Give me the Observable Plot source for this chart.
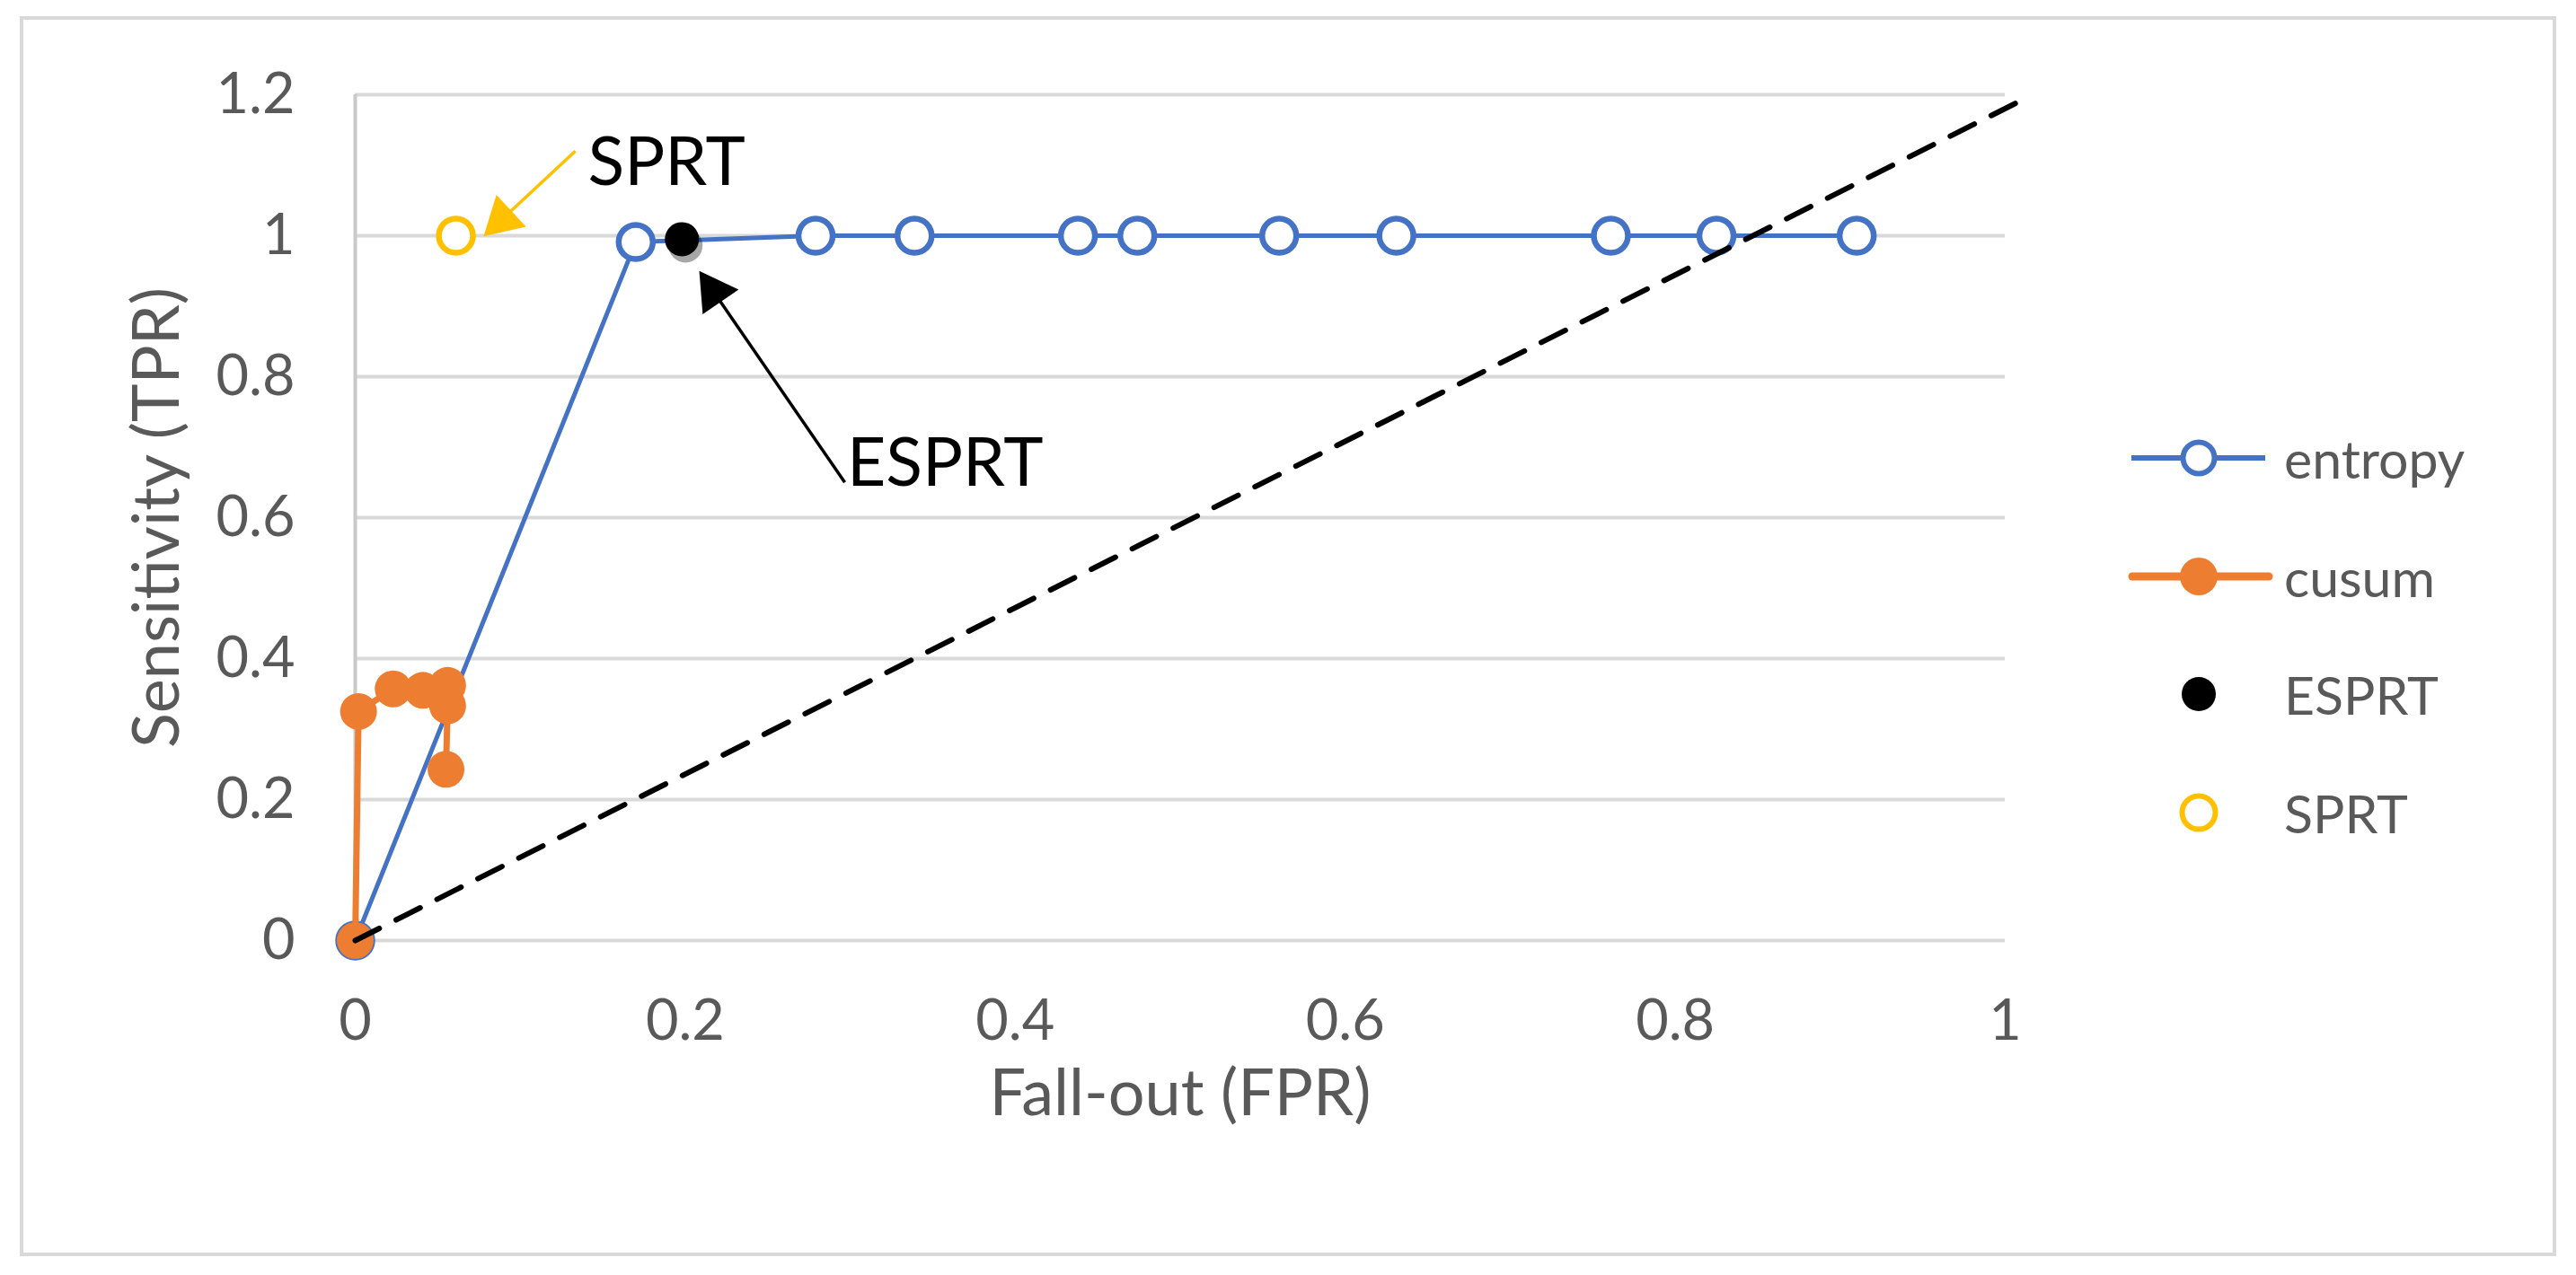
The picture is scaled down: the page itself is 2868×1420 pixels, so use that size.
<!DOCTYPE html>
<html>
<head>
<meta charset="utf-8">
<script src="https://cdn.jsdelivr.net/npm/d3@7"></script>
<script src="https://cdn.jsdelivr.net/npm/@observablehq/plot@0.6"></script>
<style>
  html, body { margin: 0; padding: 0; background: #fff; }
  #wrap { position: relative; width: 2868px; height: 1420px; overflow: hidden; background: #fff; font-family: Lato, "Open Sans", sans-serif; }
  #border { position: absolute; left: 22px; top: 18px; width: 2824px; height: 1381px; border: 4px solid #d9d9d9; box-sizing: border-box; }
  #chart { position: absolute; left: 0; top: 0; }
  #legend { position: absolute; left: 0; top: 0; }
  .lg-row { position: absolute; left: 2360px; height: 80px; display: flex; align-items: center; }
  .lg-row svg { width: 180px; height: 80px; flex: none; }
  .lg-row span { font-family: Lato, sans-serif; font-size: 59px; line-height: 1; color: #595959; margin-left: 3px; white-space: nowrap; }
  g[aria-label="esprt-shadow"] { filter: blur(6px); }
</style>
</head>
<body>
<div id="wrap">
  <div id="border"></div>
  <div id="chart"></div>
  <div id="legend"></div>
</div>
<script>
// ---------- data ----------
const xTicks = [0, 0.2, 0.4, 0.6, 0.8, 1];
const yTicks = [0, 0.2, 0.4, 0.6, 0.8, 1, 1.2];

const entropyFPR = [0, 0.170, 0.279, 0.339, 0.438, 0.474, 0.560, 0.631, 0.761, 0.825, 0.910];
const entropyTPR = [0, 0.991, 1, 1, 1, 1, 1, 1, 1, 1, 1];

const cusumFPR = [0, 0.002, 0.023, 0.041, 0.056, 0.056, 0.055];
const cusumTPR = [0, 0.325, 0.357, 0.355, 0.362, 0.333, 0.243];

const esprtFPR = [0.198];
const esprtTPR = [0.995];

const sprtFPR = [0.061];
const sprtTPR = [1.0];

const diagFPR = [0, 1.014];
const diagTPR = [0, 1.197];

const annotationLabels = ["SPRT", "ESPRT"];
const annotationX = [0.141, 0.298];
const annotationY = [1.072, 0.645];

const arrowTailX = [0.1334, 0.2967];
const arrowTailY = [1.120, 0.650];
const arrowTipX = [0.0778, 0.2085];
const arrowTipY = [0.999, 0.950];
const arrowColors = ["#FFC000", "#000000"];

const legendNames = ["entropy", "cusum", "ESPRT", "SPRT"];
const legendRowY = [510, 642, 773, 905];

// ---------- layout ----------
const W = 2868, H = 1420, mL = 395, mR = 636, mT = 105, mB = 373;
const kx = (W - mL - mR) / 1;      // px per unit x
const ky = (H - mT - mB) / 1.2;    // px per unit y

const BLUE = "#4472C4", ORANGE = "#ED7D31", YELLOW = "#FFC000";

const entropy = entropyFPR.map((x, i) => ({x, y: entropyTPR[i]}));
const cusum = cusumFPR.map((x, i) => ({x, y: cusumTPR[i]}));
const esprt = esprtFPR.map((x, i) => ({x, y: esprtTPR[i]}));
const sprt = sprtFPR.map((x, i) => ({x, y: sprtTPR[i]}));
const diag = diagFPR.map((x, i) => ({x, y: diagTPR[i]}));
const annotations = annotationLabels.map((label, i) => ({label, x: annotationX[i], y: annotationY[i]}));

const headBack = 28; // px from tip to triangle centroid
const arrows = arrowTailX.map((_, i) => {
  const px = (arrowTipX[i] - arrowTailX[i]) * kx;
  const py = -(arrowTipY[i] - arrowTailY[i]) * ky;
  const len = Math.hypot(px, py);
  const ux = px / len, uy = py / len;
  return {
    x1: arrowTailX[i], y1: arrowTailY[i],
    x2: arrowTipX[i] - headBack * ux / kx,
    y2: arrowTipY[i] + headBack * uy / ky,
    rotate: Math.atan2(ux, -uy) * 180 / Math.PI,
    color: arrowColors[i]
  };
});

const plot = Plot.plot({
  width: W,
  height: H,
  marginLeft: mL,
  marginRight: mR,
  marginTop: mT,
  marginBottom: mB,
  x: {domain: [0, 1]},
  y: {domain: [0, 1.2]},
  style: {fontFamily: "Lato, sans-serif", fontSize: "63px", color: "#595959", background: "transparent", overflow: "visible"},
  marks: [
    Plot.ruleY(yTicks, {stroke: "#d9d9d9", strokeWidth: 4}),
    Plot.ruleX([0], {y1: 0, y2: 1.2, stroke: "#c9c9c9", strokeWidth: 4}),
    Plot.axisX(xTicks, {anchor: "bottom", tickSize: 0, tickPadding: 66, fontSize: 63, tickFormat: d => String(d), label: null}),
    Plot.axisY(yTicks, {anchor: "left", tickSize: 0, tickPadding: 67, fontSize: 63, tickFormat: d => String(d), label: null}),
    Plot.line(entropy, {x: "x", y: "y", stroke: BLUE, strokeWidth: 5}),
    Plot.dot(entropy, {x: "x", y: "y", r: 19, fill: "white", stroke: BLUE, strokeWidth: 6.5}),
    Plot.line(cusum, {x: "x", y: "y", stroke: ORANGE, strokeWidth: 7, strokeLinejoin: "round"}),
    Plot.dot(cusum, {x: "x", y: "y", r: 20.5, fill: ORANGE, stroke: "none"}),
    Plot.dot(esprt, {x: "x", y: "y", r: 19, fill: "#000", fillOpacity: 0.35, dx: 4, dy: 7, ariaLabel: "esprt-shadow"}),
    Plot.dot(esprt, {x: "x", y: "y", r: 19, fill: "#000", stroke: "none"}),
    Plot.dot(sprt, {x: "x", y: "y", r: 19, fill: "white", stroke: YELLOW, strokeWidth: 6.5}),
    Plot.line(diag, {x: "x", y: "y", stroke: "#000", strokeWidth: 6, strokeDasharray: "30,21"}),
    Plot.link(arrows, {x1: "x1", y1: "y1", x2: "x2", y2: "y2", stroke: "color", strokeWidth: 3.5}),
    Plot.dot(arrows, {x: "x2", y: "y2", r: 18, symbol: d3.symbolTriangle, rotate: "rotate", fill: "color", stroke: "none"}),
    Plot.text(annotations, {x: "x", y: "y", text: "label", textAnchor: "start", lineAnchor: "bottom", fontSize: 75, fill: "#000"}),
    Plot.text(["Fall-out (FPR)"], {frameAnchor: "bottom", dy: 194, textAnchor: "middle", lineAnchor: "bottom", fontSize: 72, fill: "#595959"}),
    Plot.text(["Sensitivity (TPR)"], {frameAnchor: "left", dx: -220, rotate: -90, textAnchor: "middle", lineAnchor: "middle", fontSize: 72, fill: "#595959"})
  ]
});
document.getElementById("chart").appendChild(plot);

// ---------- legend (HTML, right side) ----------
const legend = d3.select("#legend");
legendNames.forEach((name, i) => {
  const row = legend.append("div").attr("class", "lg-row").style("top", (legendRowY[i] - 40) + "px");
  const svg = row.append("svg").attr("viewBox", "0 0 180 80");
  if (name === "entropy") {
    svg.append("line").attr("x1", 13).attr("x2", 162).attr("y1", 40).attr("y2", 40).attr("stroke", BLUE).attr("stroke-width", 6);
    svg.append("circle").attr("cx", 88).attr("cy", 40).attr("r", 17.5).attr("fill", "white").attr("stroke", BLUE).attr("stroke-width", 6);
  } else if (name === "cusum") {
    svg.append("line").attr("x1", 14).attr("x2", 166).attr("y1", 40).attr("y2", 40).attr("stroke", ORANGE).attr("stroke-width", 9).attr("stroke-linecap", "round");
    svg.append("circle").attr("cx", 88).attr("cy", 40).attr("r", 21).attr("fill", ORANGE);
  } else if (name === "ESPRT") {
    svg.append("circle").attr("cx", 88).attr("cy", 40).attr("r", 19).attr("fill", "#000");
  } else {
    svg.append("circle").attr("cx", 88).attr("cy", 40).attr("r", 18.5).attr("fill", "white").attr("stroke", YELLOW).attr("stroke-width", 6);
  }
  row.append("span").text(name);
});
</script>
</body>
</html>
